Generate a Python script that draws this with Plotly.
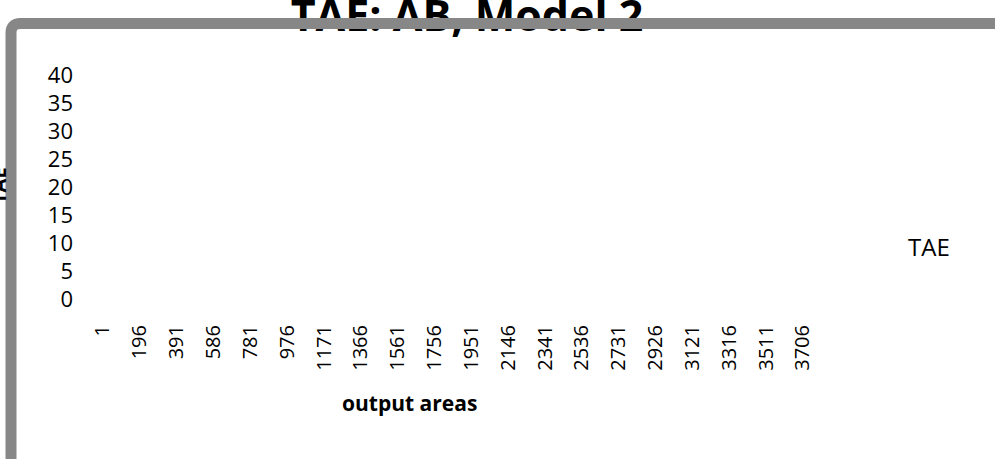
import plotly.graph_objects as go

# ---- data ----
chart_title = "TAE: AB, Model 2"
series_name = "TAE"
x_title = "output areas"
y_title = "TAE"
x_tick_labels = [1, 196, 391, 586, 781, 976, 1171, 1366, 1561, 1756,
                 1951, 2146, 2341, 2536, 2731, 2926, 3121, 3316, 3511, 3706]
# series has no plotted values in the reference (blank cells)
tae_values = [None, None, None, None, None, None, None, None, None, None,
              None, None, None, None, None, None, None, None, None, None]
y_ticks = [0, 5, 10, 15, 20, 25, 30, 35, 40]

W, H = 995, 459
FONT = "Open Sans"
FRAME = "#878787"

fig = go.Figure()

# the (empty) TAE series
fig.add_trace(go.Scatter(
    x=x_tick_labels, y=tae_values, mode="lines", name=series_name,
    line=dict(color="rgba(0,0,0,0)", width=2),
    xaxis="x", yaxis="y", hoverinfo="skip"))

# chart title drawn on a full-figure overlay so the frame passes over it
fig.add_trace(go.Scatter(
    x=[467], y=[20.5], mode="text", text=[chart_title],
    textposition="middle center",
    textfont=dict(family=FONT, size=43, color="#000000", weight="bold"),
    xaxis="x2", yaxis="y2", showlegend=False, hoverinfo="skip",
    cliponaxis=False))

fig.update_layout(
    template="none",
    width=W, height=H,
    margin=dict(l=0, r=0, t=0, b=0, autoexpand=False),
    paper_bgcolor="white", plot_bgcolor="rgba(0,0,0,0)",
    font=dict(family=FONT, color="#000000"),
    showlegend=True,
    legend=dict(x=868 / W, y=1 - 247 / H, xanchor="left", yanchor="middle",
                font=dict(family=FONT, size=24, color="#000000"),
                bgcolor="rgba(0,0,0,0)", itemwidth=30),
    xaxis=dict(domain=[95 / W, 840 / W], range=[-41.3, 3902],
               anchor="free", position=1 - 320 / H, automargin=False,
               tickmode="array", tickvals=x_tick_labels,
               ticktext=[str(v) for v in x_tick_labels],
               tickangle=-90, ticks="", showgrid=False, zeroline=False,
               showline=False, tickfont=dict(family=FONT, size=20, color="#000000")),
    yaxis=dict(domain=[1 - 299.5 / H, 1 - 75.5 / H], range=[0, 40],
               anchor="free", position=73 / W, automargin=False,
               tickmode="array", tickvals=y_ticks,
               ticks="", showgrid=False, zeroline=False, showline=False,
               tickfont=dict(family=FONT, size=22, color="#000000")),
    xaxis2=dict(domain=[0, 1], range=[0, W], visible=False, anchor="y2",
                fixedrange=True, automargin=False),
    yaxis2=dict(domain=[0, 1], range=[H, 0], visible=False, anchor="x2",
                fixedrange=True, automargin=False),
    shapes=[dict(type="path", xref="x2", yref="y2", layer="above",
                 path="M 11 480 L 11 33 Q 11 23.5 20.5 23.5 L 1010 23.5",
                 line=dict(color=FRAME, width=11))],
    annotations=[
        dict(text="<b>" + x_title + "</b>", xref="paper", yref="paper",
             x=409.5 / W, y=1 - 403 / H, xanchor="center", yanchor="middle",
             showarrow=False,
             font=dict(family=FONT, size=21, color="#000000")),
        dict(text="<b>" + y_title + "</b>", xref="paper", yref="paper",
             x=-2 / W, y=1 - 186 / H, xanchor="center", yanchor="middle",
             showarrow=False, textangle=-90,
             font=dict(family=FONT, size=20, color="#000000")),
    ],
)

fig.write_html("out.html", config={"displayModeBar": False},
               post_script="document.body.style.margin='0px';")
